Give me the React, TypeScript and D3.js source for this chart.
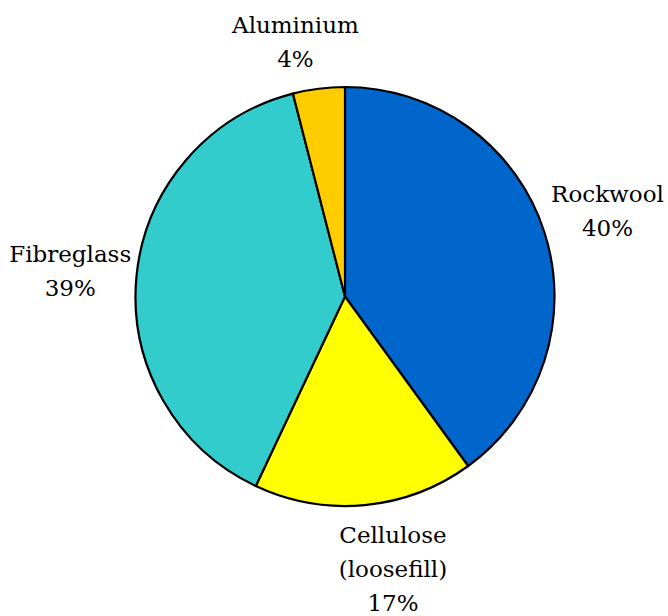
import React from "react";
import * as d3 from "d3";

// Share of insulation materials
const categories: string[] = ["Rockwool", "Cellulose\n(loosefill)", "Fibreglass", "Aluminium"];
const shares: number[] = [40, 17, 39, 4];
const colors: string[] = ["#0066CC", "#FFFF00", "#33CCCC", "#FFCC00"];

const WIDTH = 668;
const HEIGHT = 616;
const CX = 345;
const CY = 296.5;
const RADIUS = 209.5;
const LABEL_RADIUS = 276;
const FONT_SIZE = 23;
const LINE_HEIGHT = 34;
const TOP_LIMIT = 41.5; // smallest allowed centre for a two-line label block
const BOTTOM_LIMIT = 603; // largest allowed centre for the last label line
const LABEL_DX: number[] = [0, 22, 0, -15];
const FONT = "DejaVu Serif";

export default function App() {
  const data = categories.map((c, i) => ({ name: c, value: shares[i], color: colors[i] }));
  const pie = d3
    .pie<{ name: string; value: number; color: string }>()
    .value((d) => d.value)
    .sort(null)
    .startAngle(0)
    .endAngle(2 * Math.PI);
  const arcs = pie(data);
  const arcGen = d3
    .arc<d3.PieArcDatum<{ name: string; value: number; color: string }>>()
    .innerRadius(0)
    .outerRadius(RADIUS);

  return (
    <div style={{ position: "absolute", left: 0, top: 0 }}>
      <svg width={WIDTH} height={HEIGHT} style={{ display: "block", background: "#fff" }}>
        <g transform={`translate(${CX},${CY})`}>
          {arcs.map((a, i) => (
            <path
              key={i}
              d={arcGen(a) || ""}
              fill={a.data.color}
              stroke="#000"
              strokeWidth={2.2}
              strokeLinejoin="round"
            />
          ))}
        </g>
        {arcs.map((a, i) => {
          const mid = (a.startAngle + a.endAngle) / 2;
          const lines = [...a.data.name.split("\n"), `${a.data.value}%`];
          const x = CX + LABEL_RADIUS * Math.sin(mid) + LABEL_DX[i];
          let cy = CY - LABEL_RADIUS * Math.cos(mid);
          const half = ((lines.length - 1) * LINE_HEIGHT) / 2;
          if (cy - half < TOP_LIMIT - LINE_HEIGHT / 2) cy = TOP_LIMIT - LINE_HEIGHT / 2 + half;
          if (cy + half > BOTTOM_LIMIT) cy = BOTTOM_LIMIT - half;
          const firstBaseline = cy - half + FONT_SIZE * 0.36;
          return (
            <text
              key={i}
              x={x}
              y={firstBaseline}
              textAnchor="middle"
              fontFamily={FONT}
              fontSize={FONT_SIZE}
              fill="#000"
            >
              {lines.map((l, j) => (
                <tspan key={j} x={x} y={firstBaseline + j * LINE_HEIGHT}>
                  {l}
                </tspan>
              ))}
            </text>
          );
        })}
      </svg>
    </div>
  );
}
